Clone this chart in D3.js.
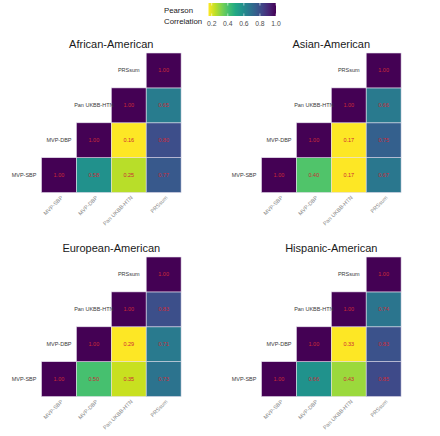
<!DOCTYPE html>
<html>
<head>
<meta charset="utf-8">
<script src="https://cdn.jsdelivr.net/npm/d3@7/dist/d3.min.js"></script>
<style>
  html, body { margin: 0; padding: 0; background: #fff; }
  svg { display: block; font-family: "Liberation Sans", Arial, Helvetica, sans-serif; }
</style>
</head>
<body>
<svg id="chart" width="440" height="436"></svg>
<script>
// ---- data ----
const variables = ["MVP-SBP", "MVP-DBP", "Pan UKBB-HTN", "PRSsum"];
const panelTitles = ["African-American", "Asian-American", "European-American", "Hispanic-American"];
// upper-triangle rows: row i holds correlations of variables[i] with variables[i..3]
const africanAmerican  = [[1.00, 0.58, 0.25, 0.77], [1.00, 0.16, 0.80], [1.00, 0.65], [1.00]];
const asianAmerican    = [[1.00, 0.40, 0.17, 0.67], [1.00, 0.17, 0.75], [1.00, 0.66], [1.00]];
const europeanAmerican = [[1.00, 0.50, 0.35, 0.73], [1.00, 0.29, 0.71], [1.00, 0.83], [1.00]];
const hispanicAmerican = [[1.00, 0.66, 0.43, 0.85], [1.00, 0.33, 0.83], [1.00, 0.74], [1.00]];
const legendTicks = [0.2, 0.4, 0.6, 0.8, 1.0];
const legendDomain = [0.16, 1.0];

const panelData = [africanAmerican, asianAmerican, europeanAmerican, hispanicAmerican];

// ---- layout ----
const svg = d3.select("#chart");
const cell = 34.9;
const origins = [[41.5, 53], [261.5, 53], [41.5, 257], [261.5, 257]];

function cellsOf(m) {
  const out = [];
  m.forEach((row, i) => row.forEach((v, k) => out.push({ row: i, col: i + k, value: v })));
  return out;
}

panelData.forEach((m, p) => {
  const [ox, oy] = origins[p];
  const g = svg.append("g");
  const x = d3.scaleBand().domain(variables).range([ox, ox + cell * 4]);
  const y = d3.scaleBand().domain(variables.slice().reverse()).range([oy, oy + cell * 4]);
  const cells = cellsOf(m);
  const minV = d3.min(cells, d => d.value);
  const color = d3.scaleSequential(t => d3.interpolateViridis(1 - t)).domain([minV, 1]);

  g.append("text")
    .attr("x", ox + cell * 2).attr("y", oy - 5)
    .attr("text-anchor", "middle")
    .attr("font-size", 11).attr("fill", "#1a1a1a")
    .text(panelTitles[p]);

  g.selectAll("rect").data(cells).enter().append("rect")
    .attr("x", d => x(variables[d.col]))
    .attr("y", d => y(variables[d.row]))
    .attr("width", x.bandwidth()).attr("height", y.bandwidth())
    .attr("fill", d => color(d.value))
    .attr("stroke", "#e6e0ee").attr("stroke-width", 0.6);

  g.selectAll("text.val").data(cells).enter().append("text")
    .attr("class", "val")
    .attr("x", d => x(variables[d.col]) + x.bandwidth() / 2)
    .attr("y", d => y(variables[d.row]) + y.bandwidth() / 2)
    .attr("dy", "0.35em")
    .attr("text-anchor", "middle")
    .attr("font-size", 5.5).attr("fill", "#cc2a36")
    .text(d => d.value.toFixed(2));

  // row labels, left of diagonal
  g.selectAll("text.rl").data(variables).enter().append("text")
    .attr("class", "rl")
    .attr("x", v => x(v) - x.bandwidth() / 2)
    .attr("y", v => y(v) + y.bandwidth() / 2)
    .attr("dy", "0.35em")
    .attr("text-anchor", "middle")
    .attr("font-size", 5.5).attr("fill", "#3a3a3a")
    .text(v => v);

  // x axis labels, rotated
  const yb = oy + cell * 4 + 4;
  g.selectAll("text.xl").data(variables).enter().append("text")
    .attr("class", "xl")
    .attr("transform", v => `translate(${x(v) + x.bandwidth() / 2 + 3},${yb}) rotate(-45)`)
    .attr("text-anchor", "end")
    .attr("dy", "0.35em")
    .attr("font-size", 5.5).attr("fill", "#8a8a8a")
    .text(v => v);
});

// ---- legend ----
const lg = svg.append("g");
const lx = d3.scaleLinear().domain(legendDomain).range([208.5, 276]);
const grad = svg.append("defs").append("linearGradient").attr("id", "lgGrad");
d3.range(0, 1.0001, 0.1).forEach(t => {
  grad.append("stop").attr("offset", t).attr("stop-color", d3.interpolateViridis(1 - t));
});
lg.append("rect")
  .attr("x", lx(legendDomain[0])).attr("y", 3)
  .attr("width", lx(legendDomain[1]) - lx(legendDomain[0])).attr("height", 13)
  .attr("fill", "url(#lgGrad)");
lg.selectAll("line.tk").data(legendTicks).enter().append("line")
  .attr("x1", d => lx(d)).attr("x2", d => lx(d))
  .attr("y1", 3).attr("y2", 5.5)
  .attr("stroke", "#fff").attr("stroke-width", 0.6);
lg.selectAll("line.tk2").data(legendTicks).enter().append("line")
  .attr("x1", d => lx(d)).attr("x2", d => lx(d))
  .attr("y1", 13.5).attr("y2", 16)
  .attr("stroke", "#fff").attr("stroke-width", 0.6);
lg.selectAll("text.tl").data(legendTicks).enter().append("text")
  .attr("x", d => lx(d)).attr("y", 26)
  .attr("text-anchor", "middle")
  .attr("font-size", 6.8).attr("fill", "#4d4d4d")
  .text(d => d.toFixed(1));
lg.append("text").attr("x", 164).attr("y", 13)
  .attr("font-size", 7.8).attr("fill", "#1a1a1a").text("Pearson");
lg.append("text").attr("x", 164).attr("y", 24)
  .attr("font-size", 7.8).attr("fill", "#1a1a1a").text("Correlation");
</script>
</body>
</html>
